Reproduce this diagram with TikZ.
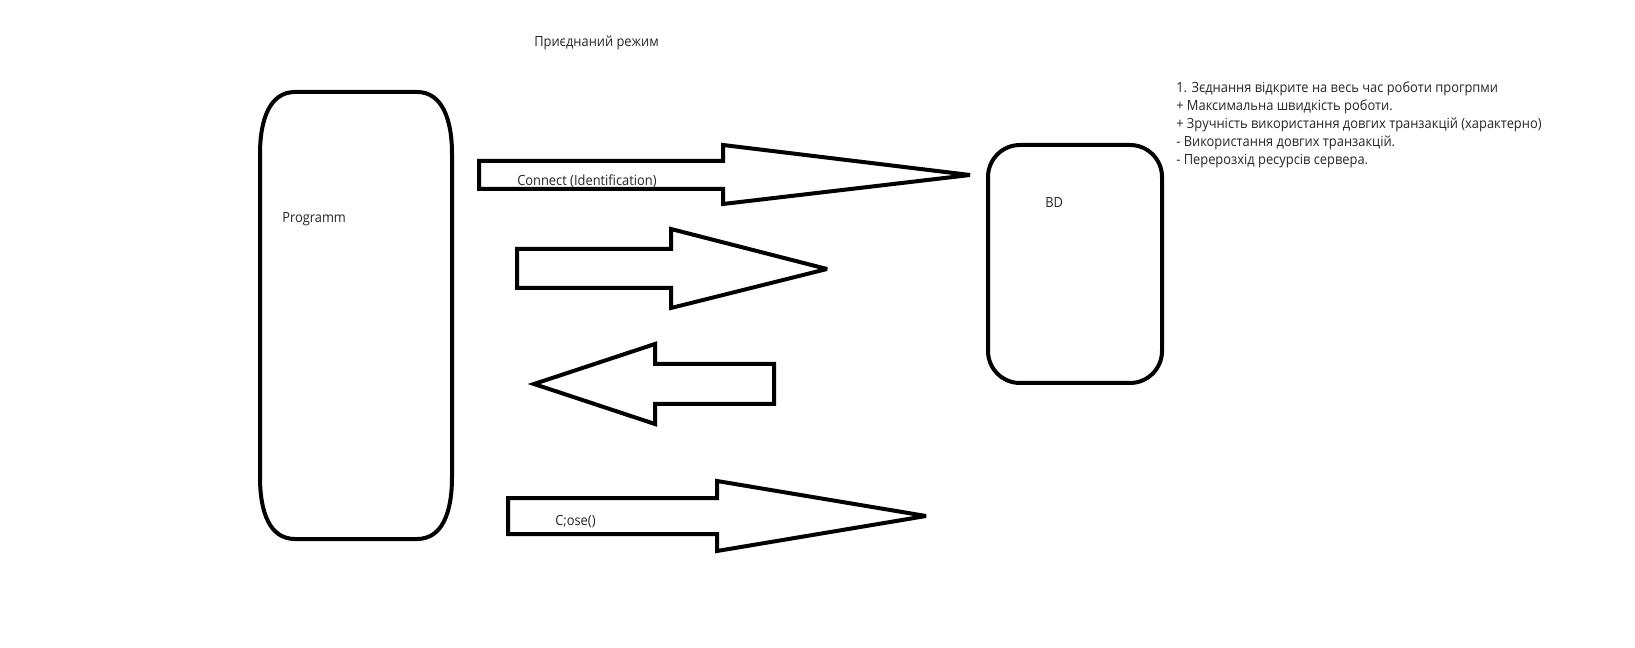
\documentclass[tikz,border=0pt]{standalone}
\usepackage{fontspec}
\setmainfont[FakeStretch=0.92]{Open Sans}
\begin{document}
\begin{tikzpicture}[x=0.75pt,y=-0.75pt,
  outline/.style={draw=black,line width=3pt,line join=miter,miter limit=4,fill=white},
  label/.style={inner sep=0pt,text=black!85,font=\fontsize{10.5pt}{13.5pt}\selectfont},
]
\useasboundingbox (0,0) rectangle (1635,648);

% program block with tall rounded ends
\path[outline] (295,92) -- (417,92) .. controls (442,92) and (452,119) .. (452,154)
  -- (452,477) .. controls (452,513) and (442,539) .. (417,539) -- (295,539)
  .. controls (270,539) and (260,513) .. (260,477) -- (260,154)
  .. controls (260,119) and (270,92) .. (295,92) -- cycle;
\node[label,anchor=west] (prog) at (282,219) {Programm};

% database block
\path[outline,rounded corners=24pt] (988,145) rectangle (1162,383);
\node[label,anchor=west] (bd) at (1045,203) {BD};

% block arrows
\path[outline] (479,161) -- (723,161) -- (723,145) -- (970,175) -- (723,204) -- (723,189) -- (479,189) -- cycle;
\node[label,anchor=west] (connect) at (517,181) {Connect (Identification)};

\path[outline] (517,249) -- (671,249) -- (671,229) -- (827,269) -- (671,308) -- (671,288) -- (517,288) -- cycle;

\path[outline] (774,364) -- (655,364) -- (655,344) -- (534,384) -- (655,424) -- (655,404) -- (774,404) -- cycle;

\path[outline] (508,498) -- (717,498) -- (717,481) -- (926,516) -- (717,551) -- (717,534) -- (508,534) -- cycle;
\node[label,anchor=west] (close) at (555,522) {C;ose()};

% title
\node[label,anchor=west] (title) at (534,43) {Приєднаний режим};

% notes
\node[label,anchor=north west,align=left] (notes) at (1176,82) {1. Зєднання відкрите на весь час роботи прогрпми\\
+ Максимальна швидкість роботи.\\
+ Зручність використання довгих транзакцій (характерно)\\
- Використання довгих транзакцій.\\
- Перерозхід ресурсів сервера.};
\end{tikzpicture}
\end{document}
